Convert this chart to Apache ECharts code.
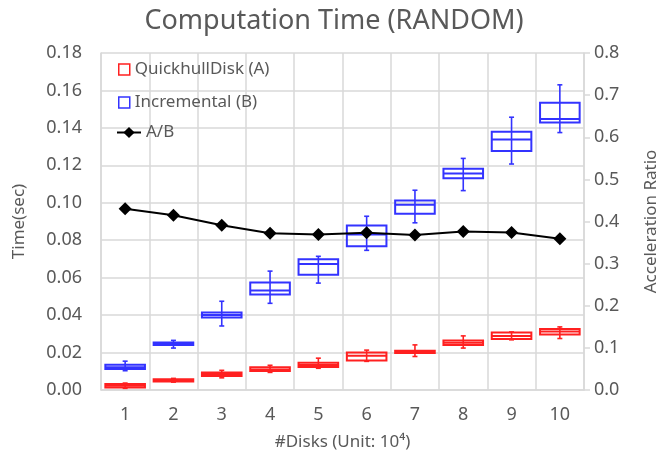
<!DOCTYPE html>
<html>
<head>
<meta charset="utf-8">
<script src="https://cdn.jsdelivr.net/npm/echarts@6/dist/echarts.min.js"></script>
<style>
  html, body { margin: 0; padding: 0; background: #fff; }
  #main { width: 668px; height: 456px; }
</style>
</head>
<body>
<div id="main"></div>
<script>
// x categories (#Disks, unit 10^4)
var categories = ['1', '2', '3', '4', '5', '6', '7', '8', '9', '10'];

// box values: [min, Q1, median, Q3, max]
var quickhullBoxes = [
    [0.0009, 0.0014, 0.0023, 0.0032, 0.0037],
    [0.0042, 0.0045, 0.0051, 0.0058, 0.0062],
    [0.0065, 0.0075, 0.0085, 0.0094, 0.0105],
    [0.0094, 0.0101, 0.0110, 0.0121, 0.0132],
    [0.0116, 0.0123, 0.0134, 0.0145, 0.0170],
    [0.0153, 0.0157, 0.0183, 0.0200, 0.0213],
    [0.0179, 0.0197, 0.0203, 0.0209, 0.0241],
    [0.0224, 0.0240, 0.0252, 0.0265, 0.0289],
    [0.0268, 0.0273, 0.0289, 0.0307, 0.0310],
    [0.0275, 0.0297, 0.0313, 0.0326, 0.0337]
];
var incrementalBoxes = [
    [0.0103, 0.0112, 0.0122, 0.0135, 0.0154],
    [0.0224, 0.0241, 0.0248, 0.0254, 0.0265],
    [0.0342, 0.0387, 0.0401, 0.0414, 0.0474],
    [0.0463, 0.0510, 0.0531, 0.0574, 0.0635],
    [0.0571, 0.0616, 0.0673, 0.0699, 0.0714],
    [0.0746, 0.0768, 0.0831, 0.0879, 0.0928],
    [0.0893, 0.0941, 0.0990, 0.1012, 0.1067],
    [0.1065, 0.1131, 0.1156, 0.1182, 0.1237],
    [0.1207, 0.1276, 0.1338, 0.1379, 0.1457],
    [0.1375, 0.1429, 0.1448, 0.1534, 0.1630]
];
// acceleration ratio A/B (right axis)
var ratio = [0.430, 0.415, 0.391, 0.372, 0.369, 0.373, 0.368, 0.376, 0.374, 0.359];

var leftTicks = { min: 0, max: 0.18, step: 0.02 };
var rightTicks = { min: 0, max: 0.8, step: 0.1 };

var textColor = '#595959';
var gridColor = '#d9d9d9';
var fontFamily = 'Noto Sans';

function toRows(boxes) {
    return boxes.map(function (b, i) { return [i].concat(b); });
}

function boxRenderer(color) {
    return function (params, api) {
        var x = api.value(0);
        var lo = api.coord([x, api.value(1)]);
        var q1 = api.coord([x, api.value(2)]);
        var md = api.coord([x, api.value(3)]);
        var q3 = api.coord([x, api.value(4)]);
        var hi = api.coord([x, api.value(5)]);
        var w = api.size([1, 0])[0] * 0.82;
        var cx = lo[0];
        var cap = 2.5;
        var st = { stroke: color, lineWidth: 1.6, fill: null };
        var bst = { stroke: color, lineWidth: 2, fill: null };
        return {
            type: 'group',
            children: [
                { type: 'line', shape: { x1: cx, y1: lo[1], x2: cx, y2: hi[1] }, style: st },
                { type: 'line', shape: { x1: cx - cap, y1: lo[1], x2: cx + cap, y2: lo[1] }, style: st },
                { type: 'line', shape: { x1: cx - cap, y1: hi[1], x2: cx + cap, y2: hi[1] }, style: st },
                { type: 'rect', shape: { x: cx - w / 2, y: q3[1], width: w, height: Math.max(q1[1] - q3[1], 1) }, style: bst },
                { type: 'line', shape: { x1: cx - w / 2, y1: md[1], x2: cx + w / 2, y2: md[1] }, style: bst }
            ]
        };
    };
}

var myChart = echarts.init(document.getElementById('main'));
var option = {
    animation: false,
    backgroundColor: '#fff',
    textStyle: { fontFamily: fontFamily },
    title: {
        text: 'Computation Time (RANDOM)',
        left: 'center',
        top: 3,
        textStyle: { fontFamily: fontFamily, fontSize: 27, fontWeight: 'normal', color: textColor }
    },
    legend: [
        {
            orient: 'vertical',
            left: 118,
            top: 61,
            padding: 0,
            itemWidth: 11,
            itemHeight: 11,
            itemGap: 16,
            textStyle: { fontSize: 17, color: textColor, fontFamily: fontFamily },
            data: [
                { name: 'QuickhullDisk (A)', icon: 'rect', itemStyle: { color: '#fff', borderColor: '#ff2020', borderWidth: 1.5 } },
                { name: 'Incremental (B)', icon: 'rect', itemStyle: { color: '#fff', borderColor: '#3333ff', borderWidth: 1.5 } }
            ]
        },
        {
            left: 116,
            top: 124,
            padding: 0,
            itemWidth: 24,
            itemHeight: 14,
            textStyle: { fontSize: 17, color: textColor, fontFamily: fontFamily },
            data: ['A/B']
        }
    ],
    grid: { left: 101, right: 80, top: 53, bottom: 65 },
    xAxis: [
        {
            type: 'category',
            data: categories,
            name: '#Disks (Unit: 10\u2074)',
            nameLocation: 'middle',
            nameGap: 44,
            nameTextStyle: { fontSize: 17, color: textColor },
            axisLine: { lineStyle: { color: gridColor, width: 1.5 } },
            axisTick: { show: false },
            axisLabel: { fontSize: 18, color: textColor, margin: 16 },
            splitLine: { show: true, lineStyle: { color: gridColor, width: 1.5 } }
        },
        {
            type: 'category',
            data: categories,
            show: false,
            position: 'bottom'
        }
    ],
    yAxis: [
        {
            type: 'value',
            min: leftTicks.min,
            max: leftTicks.max,
            interval: leftTicks.step,
            name: 'Time(sec)',
            nameLocation: 'middle',
            nameGap: 73,
            nameTextStyle: { fontSize: 17, color: textColor },
            axisLine: { show: true, lineStyle: { color: gridColor, width: 1.5 } },
            axisTick: { show: false },
            axisLabel: { fontSize: 18, color: textColor, margin: 19, formatter: function (v) { return v.toFixed(2); } },
            splitLine: { lineStyle: { color: gridColor, width: 1.5 } }
        },
        {
            type: 'value',
            min: rightTicks.min,
            max: rightTicks.max,
            interval: rightTicks.step,
            name: 'Acceleration Ratio',
            nameLocation: 'middle',
            nameGap: 59,
            nameTextStyle: { fontSize: 17, color: textColor },
            axisLine: { show: true, lineStyle: { color: gridColor, width: 1.5 } },
            axisTick: { show: true, length: 6, lineStyle: { color: gridColor, width: 1.5 } },
            axisLabel: { fontSize: 18, color: textColor, margin: 10, formatter: function (v) { return v.toFixed(1); } },
            splitLine: { show: false }
        }
    ],
    series: [
        {
            name: 'QuickhullDisk (A)',
            type: 'custom',
            xAxisIndex: 0,
            yAxisIndex: 0,
            itemStyle: { color: '#ff2020' },
            encode: { x: 0, y: [1, 2, 3, 4, 5] },
            renderItem: boxRenderer('#ff2020'),
            data: toRows(quickhullBoxes),
            z: 2
        },
        {
            name: 'Incremental (B)',
            type: 'custom',
            xAxisIndex: 1,
            yAxisIndex: 0,
            itemStyle: { color: '#3333ff' },
            encode: { x: 0, y: [1, 2, 3, 4, 5] },
            renderItem: boxRenderer('#3333ff'),
            data: toRows(incrementalBoxes),
            z: 2
        },
        {
            name: 'A/B',
            type: 'line',
            xAxisIndex: 0,
            yAxisIndex: 1,
            data: ratio,
            symbol: 'diamond',
            symbolSize: 13,
            itemStyle: { color: '#000' },
            lineStyle: { color: '#000', width: 2 },
            z: 3
        }
    ]
};

myChart.setOption(option);
</script>
</body>
</html>
